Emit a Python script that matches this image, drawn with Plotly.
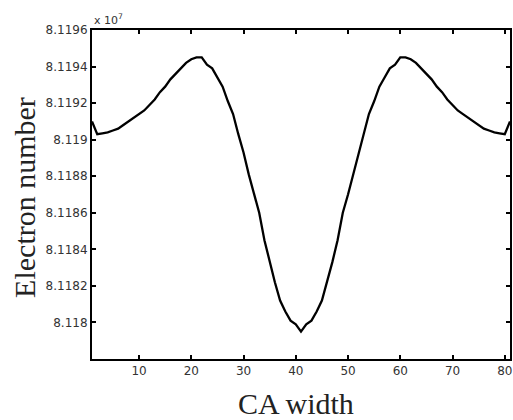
import plotly.graph_objects as go

# CA width positions, left half up to the centre (curve is mirrored about x=41)
ca_left = list(range(1, 42))
electrons_left = [
    8.11910, 8.11903, 8.119035, 8.11904, 8.11905, 8.11906, 8.11908, 8.11910, 8.11912, 8.11914,
    8.11916, 8.11919, 8.11922, 8.11926, 8.11929, 8.11933, 8.11936, 8.11939, 8.11942, 8.11944,
    8.11945, 8.11945, 8.11941, 8.11939, 8.11934, 8.11929, 8.11921, 8.11914, 8.11903, 8.11893,
    8.11881, 8.11870, 8.11860, 8.11845, 8.11833, 8.11822, 8.11812, 8.11806, 8.11801, 8.11799,
    8.11795,
]

ca_width = ca_left + [82 - x for x in reversed(ca_left[:-1])]
electrons = electrons_left + list(reversed(electrons_left[:-1]))

x_ticks = [10, 20, 30, 40, 50, 60, 70, 80]
y_ticks = [8.118, 8.1182, 8.1184, 8.1186, 8.1188, 8.119, 8.1192, 8.1194, 8.1196]
y_labels = ["8.118", "8.1182", "8.1184", "8.1186", "8.1188", "8.119", "8.1192", "8.1194", "8.1196"]

fig = go.Figure()
fig.add_trace(go.Scatter(
    x=ca_width, y=electrons, mode="lines",
    line=dict(color="black", width=2.3),
))

axis_style = dict(
    showgrid=False, zeroline=False, showline=True, mirror="ticks",
    linecolor="black", linewidth=2, ticks="inside", ticklen=4,
    tickcolor="black", tickwidth=1.5, automargin=False,
    tickfont=dict(family="DejaVu Sans", size=12, color="#333"),
)

fig.update_xaxes(range=[1, 81], tickvals=x_ticks, **axis_style)
fig.update_yaxes(range=[8.1178, 8.1196], tickvals=y_ticks, ticktext=y_labels, **axis_style)

fig.update_layout(
    width=513, height=420,
    margin=dict(l=92, r=3, t=30, b=61),
    paper_bgcolor="white", plot_bgcolor="white",
    showlegend=False,
    annotations=[
        dict(text="x 10<sup>7</sup>", x=0, y=1, xref="paper", yref="paper",
             xanchor="left", yanchor="bottom", yshift=1, showarrow=False,
             font=dict(family="DejaVu Sans", size=11, color="#333")),
        dict(text="CA width", x=0.488, y=-0.08, xref="paper", yref="paper",
             xanchor="center", yanchor="top", showarrow=False,
             font=dict(family="Liberation Serif, Times New Roman", size=30, color="#222")),
        dict(text="Electron number", x=-0.16, y=0.49, xref="paper", yref="paper",
             xanchor="center", yanchor="middle", textangle=-90, showarrow=False,
             font=dict(family="Liberation Serif, Times New Roman", size=30, color="#222")),
    ],
)

# drop the browser's default 8px body margin so the figure fills the window
fig.write_html("out.html", config={"displayModeBar": False},
               post_script="document.body.style.margin='0';")
